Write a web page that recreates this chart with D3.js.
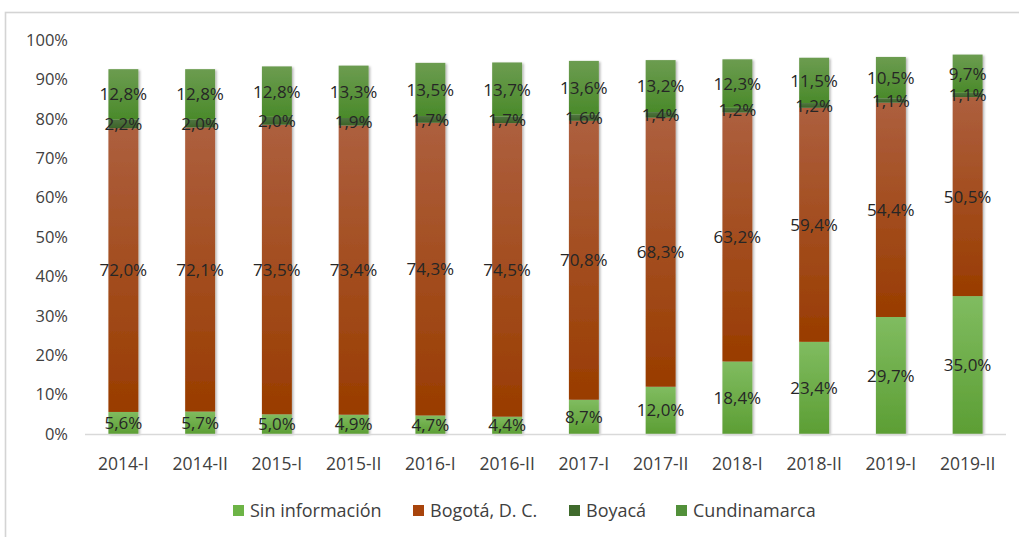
<!DOCTYPE html>
<html>
<head>
<meta charset="utf-8">
<script src="https://cdn.jsdelivr.net/npm/d3@7"></script>
<style>
  body { margin: 0; background: #fff; }
  svg text { font-family: "Open Sans", "Lato", sans-serif; }
</style>
</head>
<body>
<div id="chart"></div>
<script>
// datos (porcentajes)
const periodos = ["2014-I", "2014-II", "2015-I", "2015-II", "2016-I", "2016-II",
                  "2017-I", "2017-II", "2018-I", "2018-II", "2019-I", "2019-II"];
const sinInformacion = [5.6, 5.7, 5.0, 4.9, 4.7, 4.4, 8.7, 12.0, 18.4, 23.4, 29.7, 35.0];
const bogota         = [72.0, 72.1, 73.5, 73.4, 74.3, 74.5, 70.8, 68.3, 63.2, 59.4, 54.4, 50.5];
const boyaca         = [2.2, 2.0, 2.0, 1.9, 1.7, 1.7, 1.6, 1.4, 1.2, 1.2, 1.1, 1.1];
const cundinamarca   = [12.8, 12.8, 12.8, 13.3, 13.5, 13.7, 13.6, 13.2, 12.3, 11.5, 10.5, 9.7];
const yTicks = [0, 10, 20, 30, 40, 50, 60, 70, 80, 90, 100];

const series = [
  {name: "Sin información", values: sinInformacion, top: "#80bc60", bottom: "#5c9e34", legend: "#6db446"},
  {name: "Bogotá, D. C.",   values: bogota,         top: "#ad5f3e", bottom: "#993c00", legend: "#a8440c"},
  {name: "Boyacá",          values: boyaca,         top: "#4f7440", bottom: "#3c6428", legend: "#3f6a2c"},
  {name: "Cundinamarca",    values: cundinamarca,   top: "#6c9c50", bottom: "#4a8a2a", legend: "#52903a"}
];

const width = 1019, height = 537;
const svg = d3.select("#chart").append("svg")
    .attr("width", width)
    .attr("height", height);

// marco del grafico
svg.append("rect")
    .attr("x", 5.5).attr("y", 12.5)
    .attr("width", 1100).attr("height", 600)
    .attr("fill", "none")
    .attr("stroke", "#d4d4d4")
    .attr("stroke-width", 1.6);

const defs = svg.append("defs");
series.forEach(function(s, i) {
    let g = defs.append("linearGradient")
        .attr("id", "grad" + i)
        .attr("x1", 0).attr("y1", 0).attr("x2", 0).attr("y2", 1);
    g.append("stop").attr("offset", "0%").attr("stop-color", s.top);
    g.append("stop").attr("offset", "100%").attr("stop-color", s.bottom);
});
defs.append("filter").attr("id", "sombra")
    .attr("x", "-20%").attr("y", "-5%").attr("width", "150%").attr("height", "115%")
    .append("feDropShadow")
    .attr("dx", 1.5).attr("dy", 1).attr("stdDeviation", 1.3)
    .attr("flood-color", "#000").attr("flood-opacity", 0.3);

const x = d3.scaleBand()
    .domain(periodos)
    .range([85, 1006])
    .paddingInner(0.61)
    .paddingOuter(0.305);

const y = d3.scaleLinear().domain([0, 100]).range([434, 40]);

// eje Y (solo etiquetas)
svg.append("g").selectAll("text")
    .data(yTicks)
    .join("text")
    .attr("x", 68)
    .attr("y", d => y(d))
    .attr("dy", "0.35em")
    .attr("text-anchor", "end")
    .attr("font-size", 16.5)
    .attr("fill", "#404040")
    .text(d => d + "%");

// apilar los datos
const stackData = periodos.map(function(p, i) {
    let row = {periodo: p};
    series.forEach(s => row[s.name] = s.values[i]);
    return row;
});
const stacked = d3.stack().keys(series.map(s => s.name))(stackData);

const barras = svg.append("g").attr("filter", "url(#sombra)");
stacked.forEach(function(layer, i) {
    barras.append("g").selectAll("rect")
        .data(layer)
        .join("rect")
        .attr("x", d => x(d.data.periodo))
        .attr("width", x.bandwidth())
        .attr("y", d => y(d[1]))
        .attr("height", d => y(d[0]) - y(d[1]))
        .attr("fill", "url(#grad" + i + ")");
});

// linea base
svg.append("line")
    .attr("x1", 85).attr("x2", 1006)
    .attr("y1", y(0) + 0.5).attr("y2", y(0) + 0.5)
    .attr("stroke", "#d9d9d9")
    .attr("stroke-width", 1.5);

// etiquetas de datos
const fmt = v => v.toFixed(1).replace(".", ",") + "%";
stacked.forEach(function(layer) {
    svg.append("g").selectAll("text")
        .data(layer)
        .join("text")
        .attr("x", d => x(d.data.periodo) + x.bandwidth() / 2)
        .attr("y", d => y((d[0] + d[1]) / 2))
        .attr("dy", "0.36em")
        .attr("text-anchor", "middle")
        .attr("font-size", 17)
        .attr("fill", "#262626")
        .text(d => fmt(d[1] - d[0]));
});

// eje X
svg.append("g").selectAll("text")
    .data(periodos)
    .join("text")
    .attr("x", d => x(d) + x.bandwidth() / 2)
    .attr("y", 464)
    .attr("dy", "0.35em")
    .attr("text-anchor", "middle")
    .attr("font-size", 17.5)
    .attr("fill", "#404040")
    .text(d => d);

// leyenda
const legendX = [233, 413, 569, 676];
const legend = svg.append("g").selectAll("g")
    .data(series)
    .join("g")
    .attr("transform", (d, i) => "translate(" + legendX[i] + ",510.5)");
legend.append("rect")
    .attr("x", 0).attr("y", -5.5)
    .attr("width", 11).attr("height", 11)
    .attr("fill", d => d.legend);
legend.append("text")
    .attr("x", 17)
    .attr("dy", "0.35em")
    .attr("font-size", 18)
    .attr("fill", "#404040")
    .text(d => d.name);
</script>
</body>
</html>
